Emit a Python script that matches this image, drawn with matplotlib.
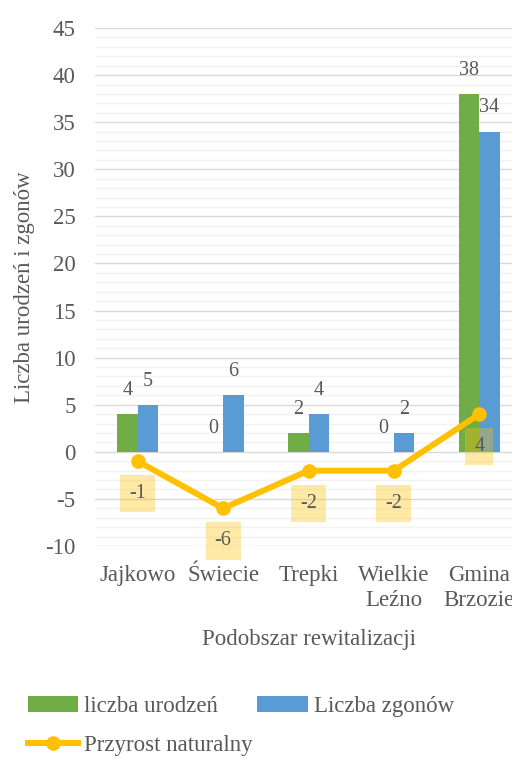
import matplotlib.pyplot as plt
from matplotlib.ticker import MultipleLocator
import numpy as np

plt.rcParams['font.family'] = ['Liberation Serif', 'DejaVu Serif']
plt.rcParams['axes.unicode_minus'] = False

categories = ["Jajkowo", "Świecie", "Trepki", "Wielkie\nLeźno", "Gmina\nBrzozie"]
urodzenia = [4, 0, 2, 0, 38]
zgony = [5, 6, 4, 2, 34]
przyrost = [-1, -6, -2, -2, 4]

text_col = "#595959"
green = "#70AD47"
blue = "#5B9BD5"
gold = "#FFC000"

fig = plt.figure(figsize=(5.12, 7.58), dpi=100)
# plot area runs past the right edge, like the cropped original
ax = fig.add_axes([95 / 512, 212 / 758, 427 / 512, 518 / 758])

x = np.arange(len(categories))
w = 0.24
b1 = ax.bar(x - w / 2, urodzenia, w, color=green, label="liczba urodzeń", zorder=3)
b2 = ax.bar(x + w / 2, zgony, w, color=blue, label="Liczba zgonów", zorder=3)
ln, = ax.plot(x, przyrost, color=gold, lw=4.3, marker="o", ms=9.5,
              label="Przyrost naturalny", zorder=4)

# bar value labels
for xs, vals in ((x - w / 2, urodzenia), (x + w / 2, zgony)):
    for xi, v in zip(xs, vals):
        ax.annotate(str(v), (xi, v), xytext=(0, 17), textcoords="offset points",
                    ha="center", va="center", fontsize=14.5, color=text_col, zorder=5)

# line value labels in shaded boxes
for xi, v in zip(x, przyrost):
    ax.annotate(str(v), (xi, v), xytext=(0, -23.5), textcoords="offset points",
                ha="center", va="center", fontsize=14.5, color=text_col, zorder=5,
                bbox=dict(boxstyle="square,pad=0.45", fc=gold, ec="none", alpha=0.35))

ax.set_xlim(-0.5, 4.5)
ax.set_ylim(-10, 45)
ax.yaxis.set_major_locator(MultipleLocator(5))
ax.yaxis.set_minor_locator(MultipleLocator(1))
ax.set_xticks(x)
ax.set_xticklabels(categories, linespacing=1.2)
ax.tick_params(axis="both", which="both", length=0, labelsize=16.5, colors=text_col)
ax.tick_params(axis="y", pad=14)
ax.tick_params(axis="x", pad=14)
ax.grid(axis="y", which="major", color="#D9D9D9", lw=1.0, zorder=0)
ax.grid(axis="y", which="minor", color="#F2F2F2", lw=1.0, zorder=0)
ax.grid(axis="x", which="both", visible=False)
for s in ax.spines.values():
    s.set_visible(False)

ax.set_ylabel("Liczba urodzeń i zgonów", fontsize=16.5, color=text_col)
ax.yaxis.set_label_coords(-0.14, 0.5)
ax.set_xlabel("Podobszar rewitalizacji", fontsize=16.5, color=text_col)
ax.xaxis.set_label_coords(0.5, -0.16)

fig.legend(handles=[b1, ln, b2], labels=["liczba urodzeń", "Przyrost naturalny", "Liczba zgonów"],
           ncol=2, loc="upper left", bbox_to_anchor=(28 / 512, 1 - 696 / 758),
           frameon=False, fontsize=16.5, labelcolor=text_col, handlelength=2.2,
           handletextpad=0.25, columnspacing=0.2, labelspacing=0.78,
           borderpad=0, borderaxespad=0)

fig.savefig("out.png", dpi=100)
